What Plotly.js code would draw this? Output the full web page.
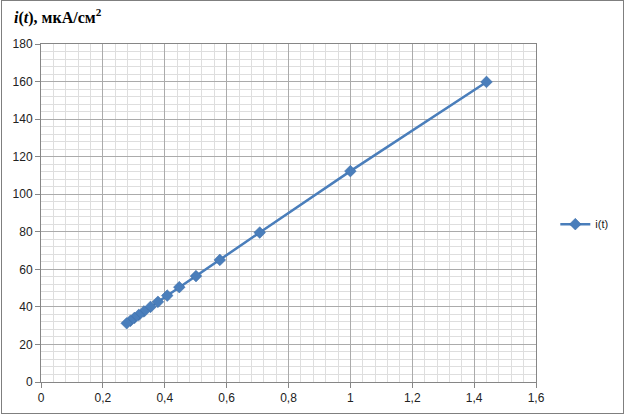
<!DOCTYPE html>
<html>
<head>
<meta charset="utf-8">
<script src="https://cdn.plot.ly/plotly-3.0.1.min.js"></script>
<style>
html,body{margin:0;padding:0;background:#fff;}
#wrap{position:relative;width:625px;height:416px;}
#chart{position:absolute;left:0;top:0;width:625px;height:416px;}
#frame{position:absolute;left:1px;top:0px;width:621px;height:412px;border:1px solid #7f7f7f;pointer-events:none;}
</style>
</head>
<body>
<div id="wrap"><div id="chart"></div><div id="frame"></div></div>
<script>
var xValues = [1.44, 1.0, 0.707, 0.578, 0.501, 0.447, 0.408, 0.378, 0.354, 0.333, 0.316, 0.302, 0.289, 0.277];
var iValues = [159.8, 112.3, 79.6, 65.0, 56.4, 50.5, 46.0, 42.7, 40.0, 37.6, 35.7, 34.1, 32.6, 31.3];
var seriesName = 'i(t)';
var titleText = '<b><i>i</i>(<i>t</i>), мкА/см<sup>2</sup></b>';

var blue = '#4a7ebb';
var trace = {
  x: xValues, y: iValues, name: seriesName,
  type: 'scatter', mode: 'lines+markers',
  line: {color: blue, width: 2.5},
  marker: {symbol: 'diamond', size: 9, color: blue, line: {color: '#3a6aa5', width: 0.5}}
};

var axisCommon = {
  showline: true, linecolor: '#868686', linewidth: 1,
  showgrid: true, gridcolor: '#ababab', gridwidth: 1,
  zeroline: false,
  ticks: 'outside', ticklen: 5, tickcolor: '#868686',
  tickfont: {family: 'Liberation Sans, Arial, sans-serif', size: 12, color: '#222'},
  mirror: true
};

var layout = {
  width: 625, height: 416,
  margin: {l: 41, r: 86, t: 44, b: 34},
  paper_bgcolor: '#fff', plot_bgcolor: '#fff',
  separators: ', ',
  showlegend: true,
  xaxis: Object.assign({}, axisCommon, {
    range: [0, 1.6], dtick: 0.2, tick0: 0,
    minor: {dtick: 0.04, showgrid: true, gridcolor: '#dedede', gridwidth: 1, ticks: ''}
  }),
  yaxis: Object.assign({}, axisCommon, {
    range: [0, 180], dtick: 20, tick0: 0,
    minor: {dtick: 4, showgrid: true, gridcolor: '#dedede', gridwidth: 1, ticks: ''}
  }),
  legend: {
    x: 1.039, y: 0.467, xanchor: 'left', yanchor: 'middle',
    font: {family: 'Liberation Sans, Arial, sans-serif', size: 11, color: '#222'},
    bgcolor: 'rgba(0,0,0,0)'
  },
  annotations: [{
    text: titleText, xref: 'paper', yref: 'paper',
    x: -0.058, y: 1, xanchor: 'left', yanchor: 'bottom', yshift: 15,
    showarrow: false,
    font: {family: 'Liberation Serif, Times New Roman, serif', size: 16, color: '#000'}
  }]
};

Plotly.newPlot('chart', [trace], layout, {displayModeBar: false, staticPlot: true});
</script>
</body>
</html>
